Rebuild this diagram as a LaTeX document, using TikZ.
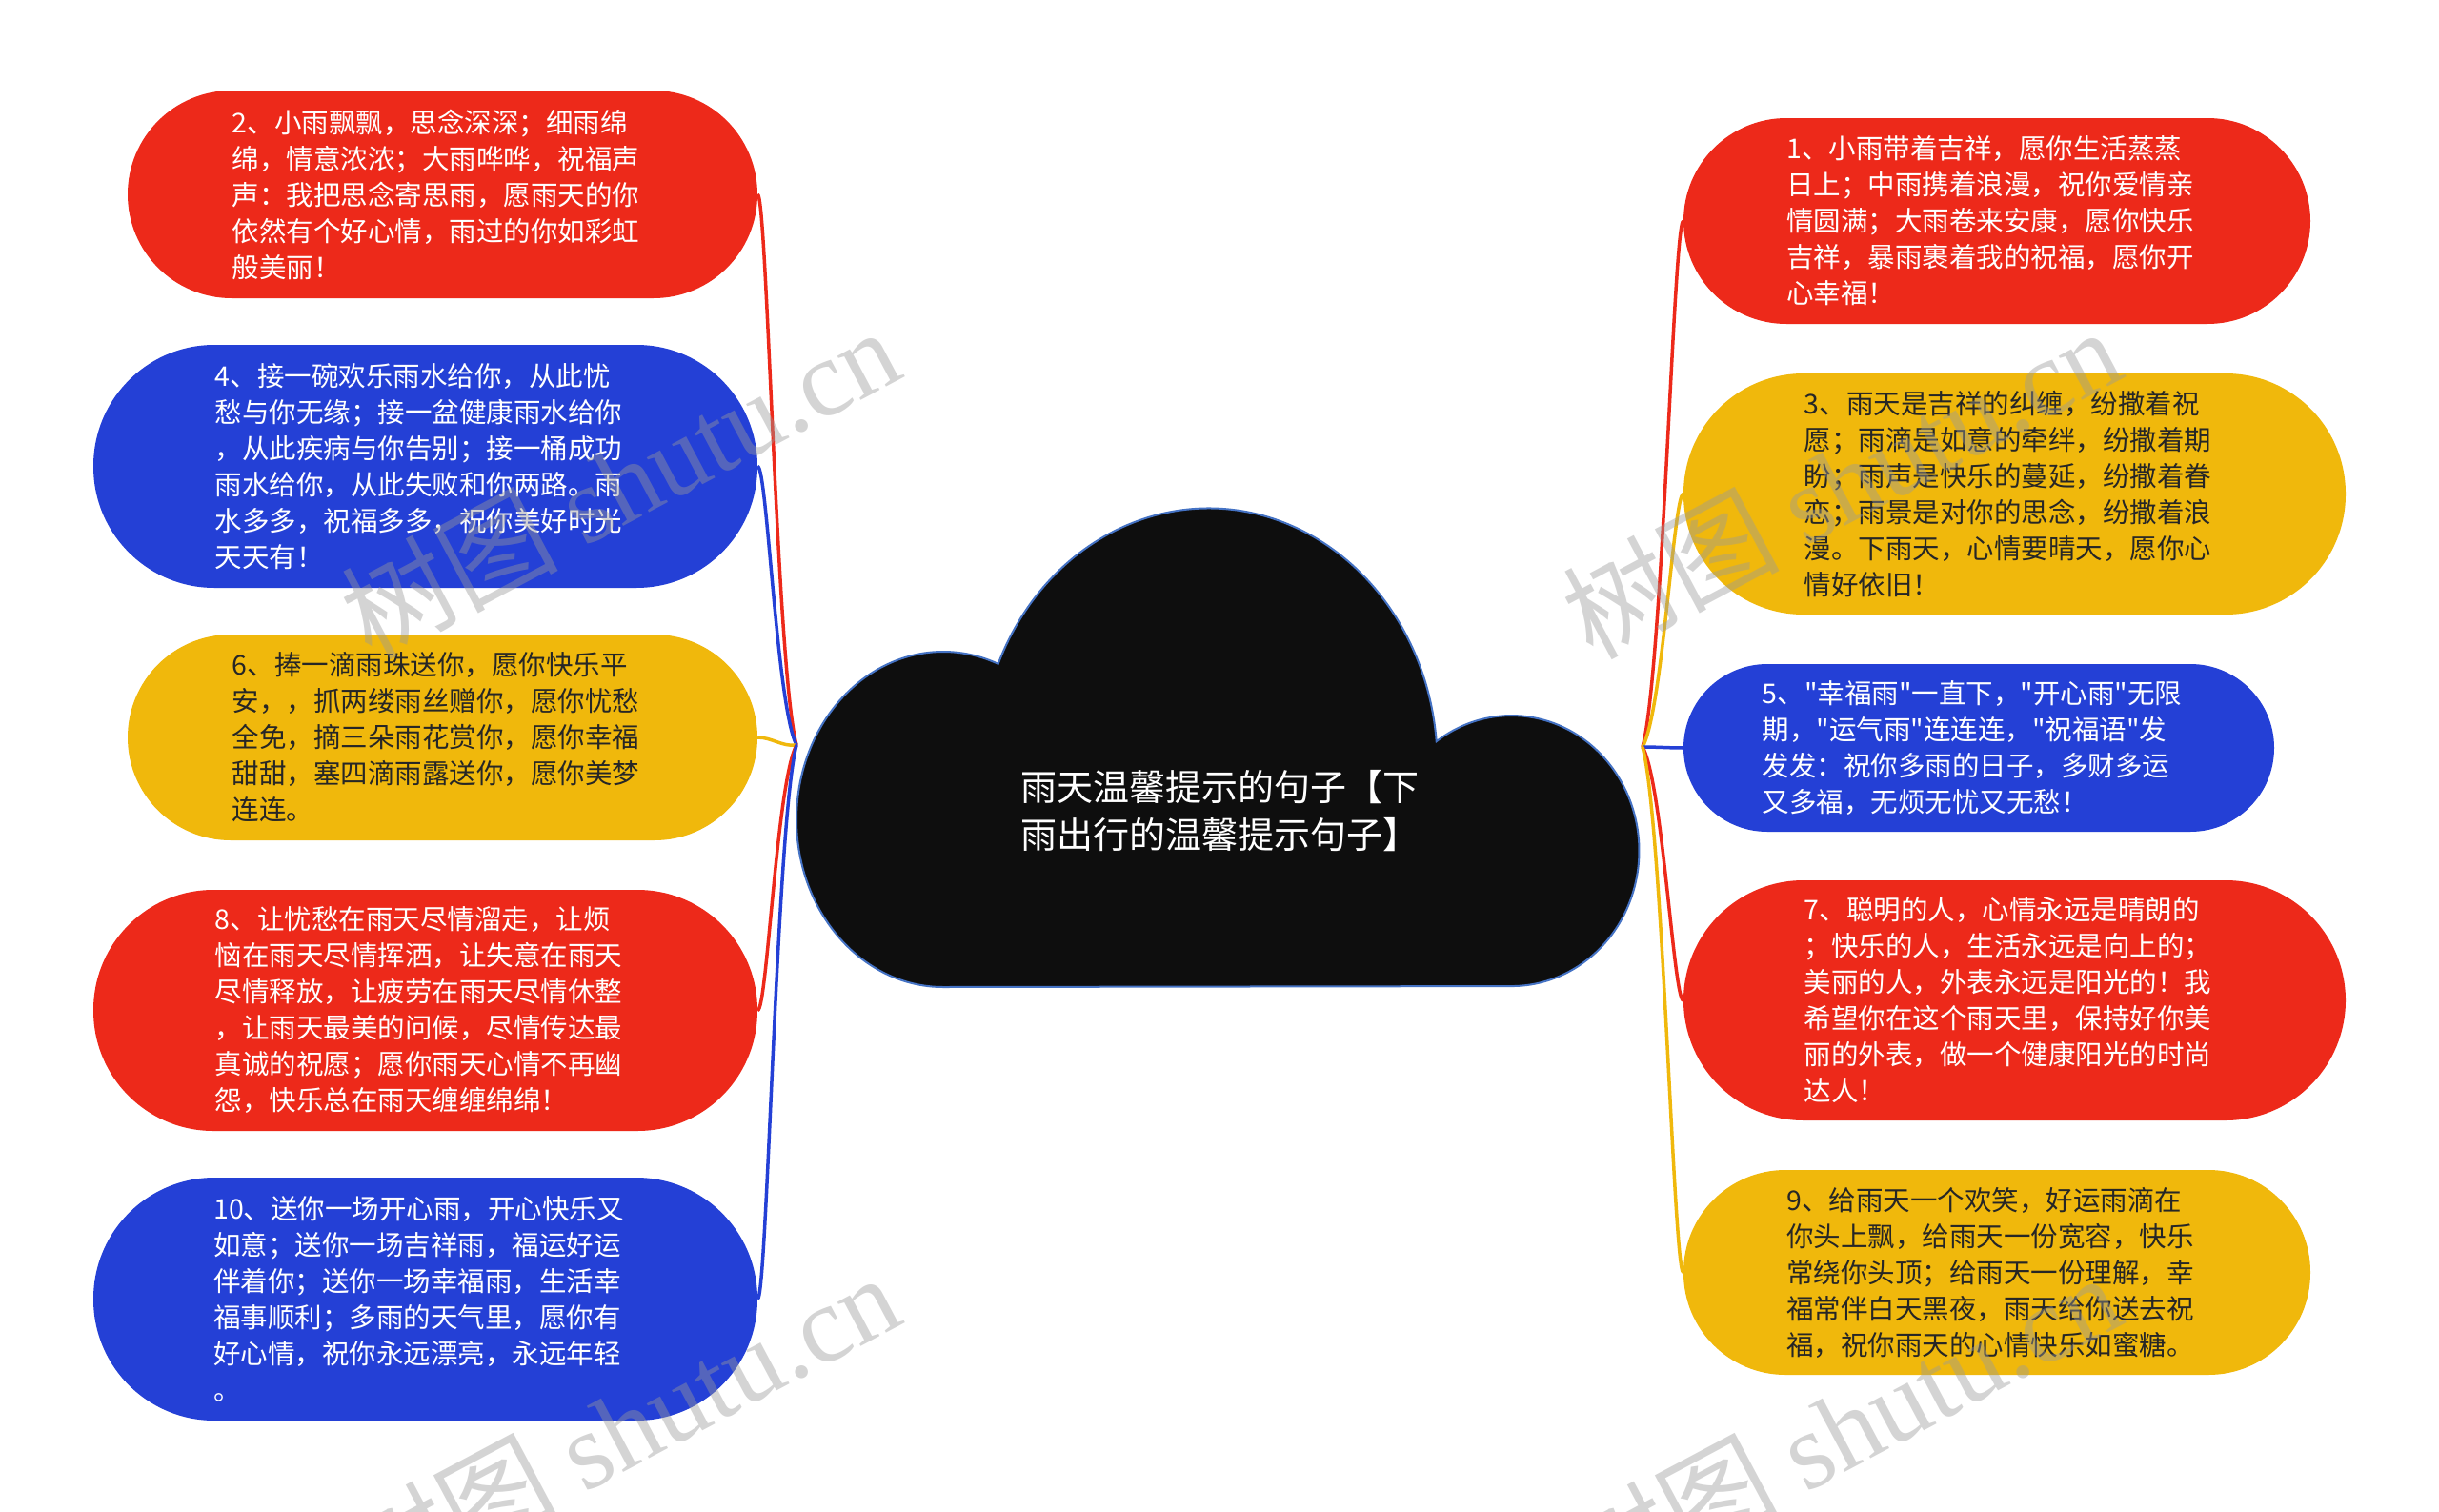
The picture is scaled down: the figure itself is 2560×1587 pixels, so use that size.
\documentclass[tikz,border=0pt]{standalone}
\usepackage{fontspec}
\newfontfamily\cjk{Noto Sans CJK SC}
\newfontfamily\wmlat{Liberation Serif}
\usetikzlibrary{backgrounds}
\definecolor{cred}{HTML}{ED291A}
\definecolor{cblue}{HTML}{2440D6}
\definecolor{cyel}{HTML}{F0B80C}
\definecolor{cloudline}{HTML}{4472C4}
\definecolor{cloudfill}{HTML}{0E0E0E}
\definecolor{wmgray}{HTML}{9A9A9A}
\definecolor{darktext}{HTML}{262626}
\tikzset{
  box/.style={inner sep=0pt},
  redbox/.style={box, fill=cred},
  bluebox/.style={box, fill=cblue},
  yelbox/.style={box, fill=cyel},
  txt/.style={inner sep=0pt, align=left, xshift=-7pt, font=\cjk\fontsize{28.5}{38}\selectfont},
  lighttxt/.style={txt, text=white},
  darktxt/.style={txt, text=darktext},
  conn/.style={line width=3.5pt},
  redconn/.style={conn, draw=cred},
  blueconn/.style={conn, draw=cblue},
  yelconn/.style={conn, draw=cyel},
  wm/.style={text=wmgray, opacity=0.42, font=\cjk\fontsize{114}{118}\selectfont, rotate=28}
}
\begin{document}
\begin{tikzpicture}[x=1pt,y=1pt]
\useasboundingbox (0,0) rectangle (2560,-1587);

% central cloud
\path[fill=cloudfill, draw=cloudline, line width=2pt]
  (990,-1036) arc[start angle=270, end angle=68, x radius=154, y radius=176]
  arc[start angle=157, end angle=5, x radius=240, y radius=268]
  arc[start angle=126, end angle=-90, x radius=134, y radius=142] -- cycle;
\node[text=white, align=left, inner sep=0pt, font=\cjk\fontsize{38}{50.6}\selectfont] (title) at (1280,-851)
  {雨天温馨提示的句子【下\\雨出行的温馨提示句子】};

\coordinate (lj) at (836,-782);
\coordinate (rj) at (1724,-784);

% left nodes
\node[redbox, minimum width=661pt, minimum height=218pt, rounded corners=109pt] (n2) at (464.5,-204) {};
\node[lighttxt] (t2) at (n2.center)
  {2、小雨飘飘，思念深深；细雨绵\\绵，情意浓浓；大雨哗哗，祝福声\\声：我把思念寄思雨，愿雨天的你\\依然有个好心情，雨过的你如彩虹\\般美丽！};
\node[bluebox, minimum width=697pt, minimum height=255pt, rounded corners=127pt] (n4) at (446.5,-489.5) {};
\node[lighttxt] (t4) at (n4.center)
  {4、接一碗欢乐雨水给你，从此忧\\愁与你无缘；接一盆健康雨水给你\\，从此疾病与你告别；接一桶成功\\雨水给你，从此失败和你两路。雨\\水多多，祝福多多，祝你美好时光\\天天有！};
\node[yelbox, minimum width=661pt, minimum height=216pt, rounded corners=108pt] (n6) at (464.5,-774) {};
\node[darktxt] (t6) at (n6.center)
  {6、捧一滴雨珠送你，愿你快乐平\\安，，抓两缕雨丝赠你，愿你忧愁\\全免，摘三朵雨花赏你，愿你幸福\\甜甜，塞四滴雨露送你，愿你美梦\\连连。};
\node[redbox, minimum width=697pt, minimum height=253pt, rounded corners=126pt] (n8) at (446.5,-1060.5) {};
\node[lighttxt] (t8) at (n8.center)
  {8、让忧愁在雨天尽情溜走，让烦\\恼在雨天尽情挥洒，让失意在雨天\\尽情释放，让疲劳在雨天尽情休整\\，让雨天最美的问候，尽情传达最\\真诚的祝愿；愿你雨天心情不再幽\\怨，快乐总在雨天缠缠绵绵！};
\node[bluebox, minimum width=697pt, minimum height=255pt, rounded corners=127pt] (n10) at (446.5,-1363.5) {};
\node[lighttxt] (t10) at (n10.center)
  {10、送你一场开心雨，开心快乐又\\如意；送你一场吉祥雨，福运好运\\伴着你；送你一场幸福雨，生活幸\\福事顺利；多雨的天气里，愿你有\\好心情，祝你永远漂亮，永远年轻\\。};

% right nodes
\node[redbox, minimum width=658pt, minimum height=216pt, rounded corners=108pt] (n1) at (2096,-232) {};
\node[lighttxt] (t1) at (n1.center)
  {1、小雨带着吉祥，愿你生活蒸蒸\\日上；中雨携着浪漫，祝你爱情亲\\情圆满；大雨卷来安康，愿你快乐\\吉祥，暴雨裹着我的祝福，愿你开\\心幸福！};
\node[yelbox, minimum width=695pt, minimum height=253pt, rounded corners=126pt] (n3) at (2114.5,-518.5) {};
\node[darktxt] (t3) at (n3.center)
  {3、雨天是吉祥的纠缠，纷撒着祝\\愿；雨滴是如意的牵绊，纷撒着期\\盼；雨声是快乐的蔓延，纷撒着眷\\恋；雨景是对你的思念，纷撒着浪\\漫。下雨天，心情要晴天，愿你心\\情好依旧！};
\node[bluebox, minimum width=620pt, minimum height=176pt, rounded corners=88pt] (n5) at (2077,-785) {};
\node[lighttxt] (t5) at (n5.center)
  {5、"幸福雨"一直下，"开心雨"无限\\期，"运气雨"连连连，"祝福语"发\\发发：祝你多雨的日子，多财多运\\又多福，无烦无忧又无愁！};
\node[redbox, minimum width=695pt, minimum height=252pt, rounded corners=126pt] (n7) at (2114.5,-1050) {};
\node[lighttxt] (t7) at (n7.center)
  {7、聪明的人，心情永远是晴朗的\\；快乐的人，生活永远是向上的；\\美丽的人，外表永远是阳光的！我\\希望你在这个雨天里，保持好你美\\丽的外表，做一个健康阳光的时尚\\达人！};
\node[yelbox, minimum width=658pt, minimum height=215pt, rounded corners=107pt] (n9) at (2096,-1335.5) {};
\node[darktxt] (t9) at (n9.center)
  {9、给雨天一个欢笑，好运雨滴在\\你头上飘，给雨天一份宽容，快乐\\常绕你头顶；给雨天一份理解，幸\\福常伴白天黑夜，雨天给你送去祝\\福，祝你雨天的心情快乐如蜜糖。};

\begin{pgfonlayer}{background}
\fill[white] (0,0) rectangle (2560,-1587);
% left connectors
\draw[redconn]  (n2.east)  .. controls +(10,0) and +(-21,81) .. (lj);
\draw[blueconn] (n4.east)  .. controls +(10,0) and +(-21,41) .. (lj);
\draw[yelconn]  (n6.east)  .. controls +(15,0) and +(-15,-2) .. (lj);
\draw[redconn]  (n8.east)  .. controls +(10,0) and +(-21,-39) .. (lj);
\draw[blueconn] (n10.east) .. controls +(10,0) and +(-21,-81) .. (lj);
% right connectors
\draw[redconn]  (n1.west) .. controls +(-10,0) and +(21,77) .. (rj);
\draw[yelconn]  (n3.west) .. controls +(-10,0) and +(21,37) .. (rj);
\draw[blueconn] (n5.west) .. controls +(-15,0) and +(15,0) .. (rj);
\draw[redconn]  (n7.west) .. controls +(-10,0) and +(21,-37) .. (rj);
\draw[yelconn]  (n9.west) .. controls +(-10,0) and +(21,-77) .. (rj);
\end{pgfonlayer}

% watermarks
\node[wm] (wm1) at (650,-506) {树图 {\wmlat shutu.cn}};
\node[wm] (wm2) at (650,-1499) {树图 {\wmlat shutu.cn}};
\node[wm] (wm3) at (1932,-506) {树图 {\wmlat shutu.cn}};
\node[wm] (wm4) at (1932,-1499) {树图 {\wmlat shutu.cn}};
\end{tikzpicture}
\end{document}
